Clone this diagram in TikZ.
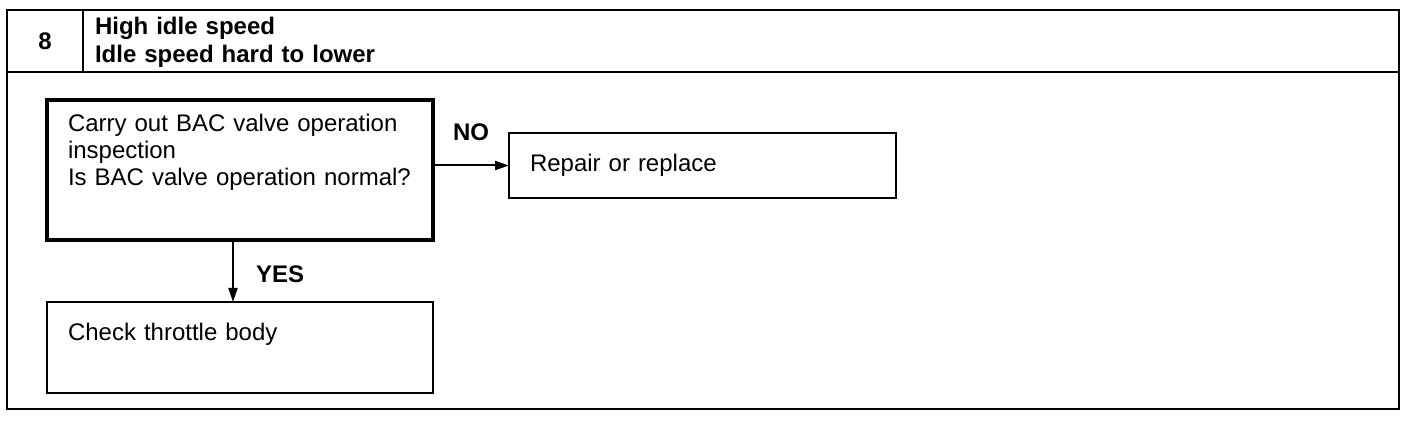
\documentclass[tikz,border=0pt]{standalone}
\usepackage{fontspec}
\setmainfont{Liberation Sans}
\usepackage{tikz}
\usetikzlibrary{arrows.meta,positioning}

\begin{document}
\begin{tikzpicture}[
  x=0.5pt,y=-0.5pt,
  every node/.style={font=\fontsize{12pt}{13.5pt}\selectfont},
  frame/.style={draw=black,line width=1.4pt,outer sep=0pt},
  box/.style={draw=black,line width=1.3pt,align=left,inner ysep=0pt,inner xsep=10.5pt,outer sep=0pt},
  answer/.style={font=\fontsize{12pt}{13.5pt}\selectfont\bfseries,inner sep=0pt},
  arrow/.style={-{Triangle[length=7pt,width=4.5pt]},line width=1pt}
]
\useasboundingbox (0,0) rectangle (1408,422);
% header
\node[frame,anchor=north west,minimum width=38pt,minimum height=31pt,inner sep=0pt,
  font=\fontsize{12pt}{13.5pt}\selectfont\bfseries] (num) at (7,10) {8};
\node[frame,anchor=north west,text width=646pt,inner xsep=6pt,inner ysep=0pt,
  text height=12.5pt,text depth=18.5pt,align=left,
  font=\fontsize{12pt}{14pt}\selectfont\bfseries] (title) at (num.north east)
  {High idle speed\\Idle speed hard to lower};
\coordinate (corner) at (1399,409);
\draw[frame] (num.south west) rectangle (corner);
% flow
\node[box,anchor=north west,text width=172pt,text height=16pt,text depth=54pt,line width=1.6pt] (q1) at (47,100)
  {Carry out BAC valve operation\\inspection\\Is BAC valve operation normal?};
\node[box,right=38pt of q1.north east,anchor=north west,yshift=-16.5pt,
  text width=172.5pt,text height=19.5pt,text depth=13pt] (fix) {Repair or replace};
\node[box,below=31pt of q1.south west,anchor=north west,
  text width=172pt,text height=19pt,text depth=26.5pt] (check) {Check throttle body};
\draw[arrow] (q1.east |- fix.west) -- node[answer,above=12pt,midway]{NO} (fix.west);
\draw[arrow] (q1.south -| 233,0) -- node[answer,right=11pt,pos=0.56]{YES} (check.north -| 233,0);
\end{tikzpicture}
\end{document}
